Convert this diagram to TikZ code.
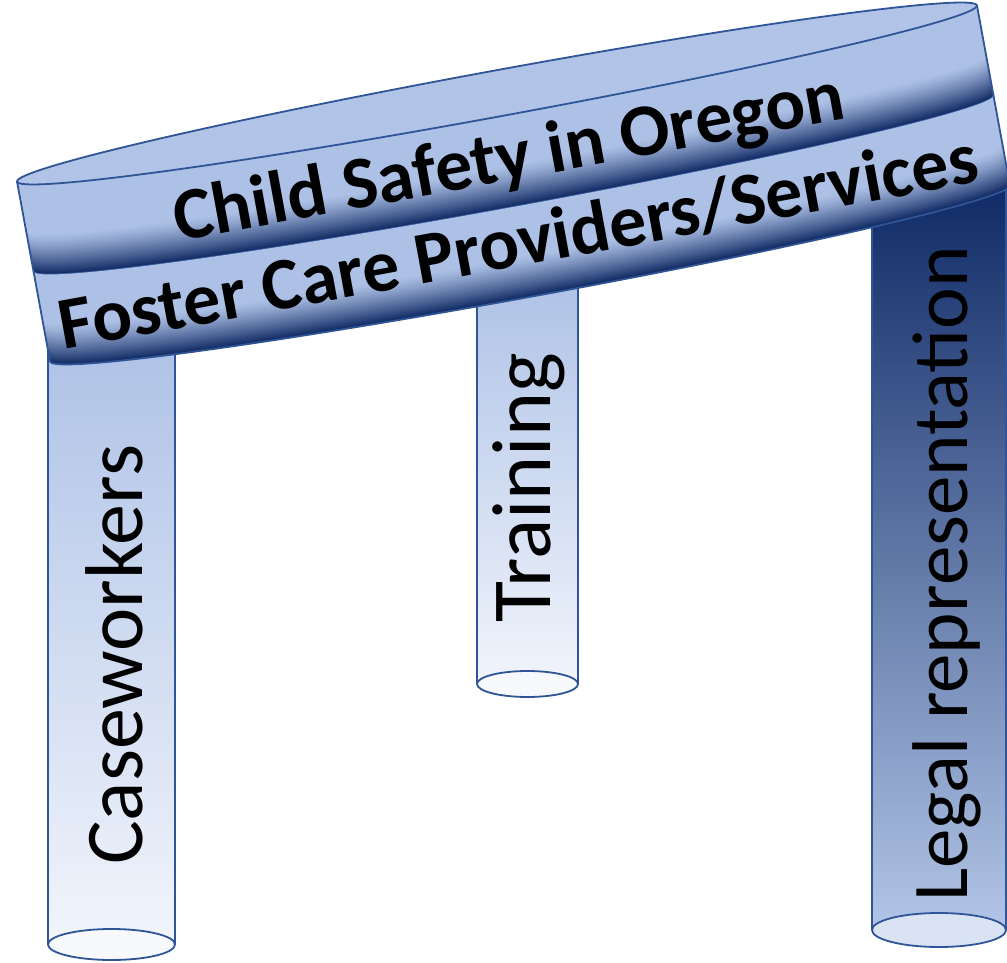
\documentclass[tikz,border=0pt]{standalone}
\usepackage{fontspec}
\setmainfont{Carlito}
\definecolor{bandlight}{HTML}{ADC1E6}
\definecolor{banddark}{HTML}{0C2660}
\definecolor{edgeblue}{HTML}{2F5597}
\definecolor{topface}{HTML}{B1C4E8}
\definecolor{palebottom}{HTML}{F3F6FC}
\definecolor{paleface}{HTML}{F7F9FD}
\definecolor{navytop}{HTML}{0F2A66}
\definecolor{legalbottom}{HTML}{B6C9EA}
\definecolor{legalface}{HTML}{DAE3F3}
\begin{document}
\begin{tikzpicture}[x=1pt,y=1pt,
  edgeline/.style={draw=edgeblue, line width=1.8pt},
  pillartext/.style={text=black, inner sep=0pt},
  toptext/.style={font=\fontsize{74}{74}\selectfont\bfseries, text=black, inner sep=0pt}]
\useasboundingbox (0,0) rectangle (1007,-963);
% ---------- pillars ----------
% left pillar
\shade[top color=bandlight, bottom color=palebottom] (48,-330) -- (48,-944.5)
  arc[start angle=180,end angle=360,x radius=63.5,y radius=15.5] -- (175,-330) -- cycle;
\draw[edgeline] (48,-330) -- (48,-944.5);
\draw[edgeline] (175,-330) -- (175,-944.5);
\filldraw[fill=paleface, edgeline] (111.5,-944.5) ellipse[x radius=63.5, y radius=15.5];
% middle pillar
\shade[top color=bandlight, bottom color=palebottom] (477,-270) -- (477,-684)
  arc[start angle=180,end angle=360,x radius=50.5,y radius=13] -- (578,-270) -- cycle;
\draw[edgeline] (477,-270) -- (477,-684);
\draw[edgeline] (578,-270) -- (578,-684);
\filldraw[fill=paleface, edgeline] (527.5,-684) ellipse[x radius=50.5, y radius=13];
% right pillar
\shade[top color=navytop, bottom color=legalbottom] (872,-186) -- (872,-930)
  arc[start angle=180,end angle=360,x radius=67,y radius=17] -- (1006,-186) -- cycle;
\draw[edgeline] (872,-186) -- (872,-930);
\draw[edgeline] (1006,-186) -- (1006,-930);
\filldraw[fill=legalface, edgeline] (939,-930) ellipse[x radius=67, y radius=17];
% ---------- top tilted cylinder ----------
\begin{scope}[shift={(497,-93.5)}, rotate=10.4]
  \def\A{488}\def\B{23}
  \foreach \t in {0,-91.5} {
    \pgfmathsetmacro\bt{\t-91.5}
    \begin{scope}
      \clip (-\A,\t) -- (-\A,\bt) arc[start angle=180,end angle=360,x radius=\A,y radius=\B]
        -- (\A,\t) arc[start angle=0,end angle=-180,x radius=\A,y radius=\B] -- cycle;
      \fill[bandlight] (-500,\t+40) rectangle (500,\bt-60);
      \foreach \i in {1,...,36} {
        \pgfmathsetmacro\d{42*(1-\i/36)}
        \pgfmathsetmacro\m{100*(\i/36)^1.25}
        \fill[banddark!\m!bandlight] (-\A,\bt+\d)
          arc[start angle=180,end angle=360,x radius=\A,y radius=\B]
          -- (\A,\bt-80) -- (-\A,\bt-80) -- cycle;
      }
    \end{scope}
    \draw[edgeline] (-\A,\t) -- (-\A,\bt) arc[start angle=180,end angle=360,x radius=\A,y radius=\B]
        -- (\A,\t);
  }
  \filldraw[fill=topface, edgeline] (0,0) ellipse[x radius=\A, y radius=\B];
  \node[toptext, anchor=base, rotate=10.4] (line1) at (0,-88) {Child Safety in Oregon};
  \node[toptext, anchor=base, rotate=10.4] (line2) at (-6,-174) {Foster Care Providers/Services};
\end{scope}
% ---------- pillar texts ----------
\node[pillartext, font=\fontsize{82}{82}\selectfont, anchor=base, rotate=90] (cw) at (142,-655) {Caseworkers};
\node[pillartext, font=\fontsize{84}{84}\selectfont, anchor=base, rotate=90] (tr) at (550,-488) {Training};
\node[pillartext, font=\fontsize{79}{79}\selectfont, anchor=base, rotate=90] (lr) at (967,-574) {Legal representation};
\end{tikzpicture}
\end{document}
